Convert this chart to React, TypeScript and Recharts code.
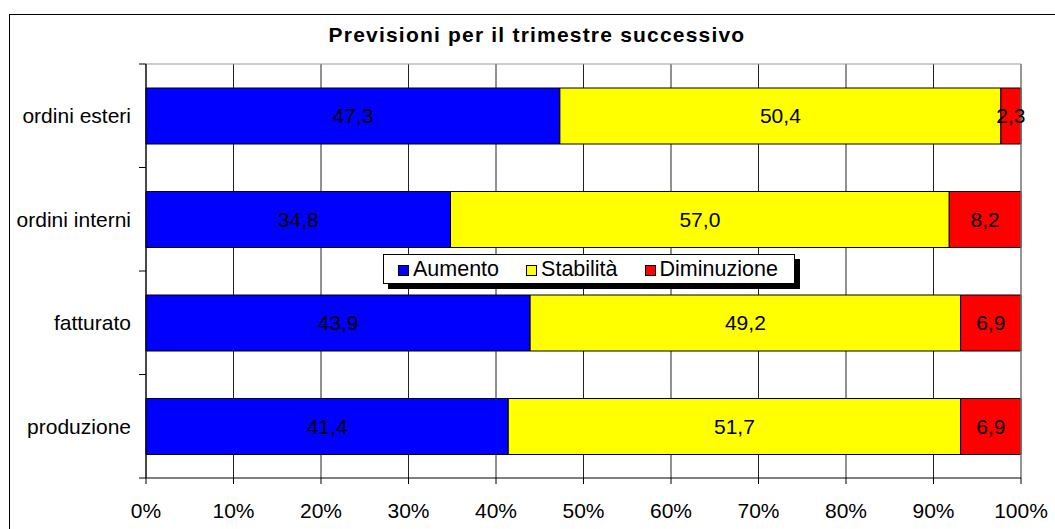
import {
  BarChart,
  Bar,
  XAxis,
  YAxis,
  CartesianGrid,
  ReferenceLine,
  LabelList,
  Legend,
} from "recharts";

const categorie = ["ordini esteri", "ordini interni", "fatturato", "produzione"];
const serie = ["Aumento", "Stabilità", "Diminuzione"];
const aumento = [47.3, 34.8, 43.9, 41.4];
const stabilita = [50.4, 57.0, 49.2, 51.7];
const diminuzione = [2.3, 8.2, 6.9, 6.9];
const tickPercentuali = [0, 10, 20, 30, 40, 50, 60, 70, 80, 90, 100];

const data = categorie.map((c, i) => ({
  categoria: c,
  aumento: aumento[i],
  stabilita: stabilita[i],
  diminuzione: diminuzione[i],
}));

const W = 1055;
const H = 529;
const MARGIN = { top: 64, right: 34, bottom: 0, left: 0 };
const Y_WIDTH = 146;
const X_HEIGHT = 51;
const PLOT_H = H - MARGIN.top - X_HEIGHT;
const BAND = PLOT_H / categorie.length;
const FONT = "'Liberation Sans', Arial, sans-serif";

const fmt = (v: any) => Number(v).toFixed(1).replace(".", ",");

function CategoryTick(props: any) {
  const { x, y, payload, index } = props;
  const half = BAND / 2;
  const x2 = Y_WIDTH;
  return (
    <g>
      <line x1={x2 - 7} x2={x2} y1={y - half} y2={y - half} stroke="#000" />
      {index === categorie.length - 1 && (
        <line x1={x2 - 7} x2={x2} y1={y + half} y2={y + half} stroke="#000" />
      )}
      <text
        x={x}
        y={y}
        dy="0.35em"
        textAnchor="end"
        fill="#000"
        fontSize={21}
        fontFamily={FONT}
      >
        {payload.value}
      </text>
    </g>
  );
}

function LegendBox(props: any) {
  const items = [...(props.payload ?? [])].sort(
    (a: any, b: any) => serie.indexOf(a.value) - serie.indexOf(b.value)
  );
  return (
    <div
      style={{
        border: "1px solid #000",
        boxShadow: "5px 5px 0 #000",
        background: "#fff",
        height: 28,
        display: "flex",
        alignItems: "center",
        paddingLeft: 14,
        fontFamily: FONT,
        fontSize: 21.5,
        color: "#000",
        whiteSpace: "nowrap",
      }}
    >
      {items.map((it: any) => (
        <div
          key={it.value}
          style={{ display: "flex", alignItems: "center", marginRight: 27 }}
        >
          <span
            style={{
              display: "inline-block",
              width: 9,
              height: 9,
              border: "1px solid #000",
              background: it.color,
              marginRight: 4,
              marginTop: 3,
            }}
          />
          <span>{it.value}</span>
        </div>
      ))}
    </div>
  );
}

export default function App() {
  return (
    <div style={{ position: "absolute", left: 0, top: 0, width: W, height: H, overflow: "hidden", background: "#fff" }}>
      <div
        style={{
          position: "absolute",
          left: 9,
          top: 14,
          width: W - 9,
          height: H - 14,
          borderTop: "1px solid #000",
          borderLeft: "1px solid #000",
        }}
      />
      <div
        style={{
          position: "absolute",
          left: 0,
          width: 1074,
          top: 24,
          lineHeight: "21px",
          textAlign: "center",
          fontFamily: FONT,
          fontWeight: 700,
          fontSize: 21,
          letterSpacing: 1.2,
        }}
      >
        Previsioni per il trimestre successivo
      </div>
      <div style={{ position: "absolute", left: 0, top: 0 }}>
        <BarChart width={W} height={H} data={data} layout="vertical" margin={MARGIN}>
          <CartesianGrid vertical stroke="#222" horizontal={false} />
          <CartesianGrid
            vertical={false}
            stroke="#999"
            horizontalCoordinatesGenerator={({ offset }: any) => [offset.top]}
          />
          <ReferenceLine x={100} stroke="#999" />
          <XAxis
            type="number"
            domain={[0, 100]}
            ticks={tickPercentuali}
            tickFormatter={(v) => `${v}%`}
            height={X_HEIGHT}
            tickSize={6}
            tickMargin={19}
            axisLine={{ stroke: "#000" }}
            tickLine={{ stroke: "#000" }}
            tick={{ fill: "#000", fontSize: 21, fontFamily: FONT }}
          />
          <YAxis
            type="category"
            dataKey="categoria"
            width={Y_WIDTH}
            tickSize={7}
            tickMargin={8}
            axisLine={{ stroke: "#000" }}
            tickLine={false}
            tick={<CategoryTick />}
          />
          <Legend
            layout="horizontal"
            verticalAlign="middle"
            align="center"
            content={<LegendBox />}
            wrapperStyle={{ left: 383, top: 254, width: 412, height: 30 }}
          />
          <Bar dataKey="aumento" name="Aumento" stackId="a" fill="#0000FF" stroke="#000" barSize={56} isAnimationActive={false}>
            <LabelList dataKey="aumento" position="center" formatter={fmt} fill="#000" fontSize={21} fontFamily={FONT} />
          </Bar>
          <Bar dataKey="stabilita" name="Stabilità" stackId="a" fill="#FFFF00" stroke="#000" barSize={56} isAnimationActive={false}>
            <LabelList dataKey="stabilita" position="center" formatter={fmt} fill="#000" fontSize={21} fontFamily={FONT} />
          </Bar>
          <Bar dataKey="diminuzione" name="Diminuzione" stackId="a" fill="#FF0000" stroke="#000" barSize={56} isAnimationActive={false}>
            <LabelList dataKey="diminuzione" position="center" formatter={fmt} fill="#000" fontSize={21} fontFamily={FONT} />
          </Bar>
        </BarChart>
      </div>
    </div>
  );
}
